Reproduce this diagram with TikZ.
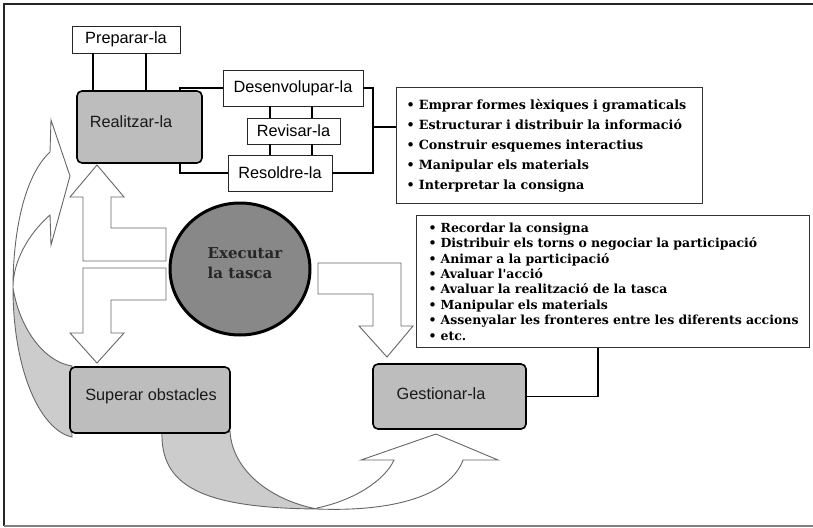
\documentclass[tikz,border=0pt]{standalone}
\usepackage{fontspec}
\setmainfont{Liberation Sans}
\newfontfamily\listfont{DejaVu Serif}
\usetikzlibrary{shapes.geometric}
\definecolor{boxgray}{HTML}{BDBDBD}
\definecolor{bandgray}{HTML}{CCCCCC}
\definecolor{circgray}{HTML}{888888}
\definecolor{edgegray}{HTML}{666666}
\hbadness=10000 \hfuzz=100pt
\tikzset{
  whitebox/.style={draw=black!85, line width=0.9pt, fill=white, inner sep=0pt,
    font=\fontsize{16.3}{18}\selectfont},
  graybox/.style={draw=black, line width=1.6pt, fill=boxgray, rounded corners=5pt, inner sep=0pt},
  lbl/.style={inner sep=0pt, font=\fontsize{16.3}{18}\selectfont, text=black!90},
  conn/.style={draw=black, line width=1.5pt},
  bigarrow/.style={draw=edgegray, line width=0.9pt, fill=white, line join=miter},
  band/.style={draw=edgegray, line width=0.9pt, fill=bandgray},
  listbox/.style={draw=black!80, line width=1pt, fill=white, align=left, anchor=north west}
}
\begin{document}
\begin{tikzpicture}[x=1pt, y=-1pt]
\useasboundingbox (0,0) rectangle (813,527);
% frame
\draw[black!85, line width=1.3pt] (813,4) -- (4,4) -- (4,526);
\draw[black!50, line width=1.3pt] (4,526) -- (813,526);

% curved arrow (left)
\path[band] (13,288) .. controls (13,370) and (40,430) .. (72,437) -- (72,366) .. controls (45,362) and (20,330) .. (13,288) -- cycle;
\path[bigarrow] (13,288) .. controls (13,230) and (25,175) .. (50,152) -- (51,120) -- (70,176) -- (51,245) -- (50,215) .. controls (35,228) and (13,255) .. (13,288) -- cycle;

% curved arrow (bottom)
\path[band] (162,431) .. controls (160,485) and (200,508) .. (317,509) .. controls (270,500) and (232,470) .. (230,431) -- cycle;
\path[bigarrow] (317,509) .. controls (395,512) and (450,495) .. (463,460) -- (498,460) -- (436,434) -- (361,460) -- (394,460) .. controls (385,480) and (355,500) .. (317,508) -- cycle;

% bent arrows around the circle
\path[bigarrow] (97,165) -- (124,197) -- (111,197) -- (111,228) -- (166,228) -- (166,261) -- (83,261) -- (83,197) -- (70,197) -- cycle;
\path[bigarrow] (83,268) -- (166,268) -- (166,300) -- (111,300) -- (111,333) -- (124,333) -- (97,363) -- (70,333) -- (83,333) -- cycle;
\path[bigarrow] (318,263) -- (401,263) -- (401,326) -- (413,326) -- (387,357) -- (359,326) -- (373,326) -- (373,294) -- (318,294) -- cycle;

% central circle
\node[ellipse, draw=black, line width=3pt, fill=circgray, minimum width=140pt, minimum height=132pt, inner sep=0pt] (executar) at (240,269) {};
\node[inner sep=0pt, align=left, font=\listfont\bfseries\fontsize{15}{20}\selectfont, text=black!85] (executarT) at (245,263) {Executar\\la tasca};

% top boxes
\node[whitebox, minimum width=108pt, minimum height=27pt] (preparar) at (126,39.5) {Preparar-la};
\node[graybox, minimum width=125pt, minimum height=72pt] (realitzar) at (139.5,127) {};
\node[lbl] (realitzarT) at (131,122) {Realitzar-la};
\node[whitebox, minimum width=140pt, minimum height=36pt] (desen) at (293,88) {Desenvolupar-la};
\node[whitebox, minimum width=93pt, minimum height=26pt] (revis) at (293.5,131) {Revisar-la};
\node[whitebox, minimum width=104pt, minimum height=36pt] (resol) at (280,173) {Resoldre-la};

% lower boxes
\node[graybox, minimum width=160pt, minimum height=66pt] (superar) at (150,400) {};
\node[lbl] (superarT) at (151,396) {Superar obstacles};
\node[graybox, minimum width=153pt, minimum height=65pt] (gestionar) at (449.5,396.5) {};
\node[lbl] (gestionarT) at (441,394) {Gestionar-la};

% lists
\node[listbox, minimum width=306pt, minimum height=116pt, text width=286pt, inner xsep=10pt, inner ysep=0pt,
  font=\listfont\bfseries\fontsize{12.7}{20}\selectfont] (list1) at (396,87) {%
\mbox{• Emprar formes lèxiques i gramaticals}\\
\mbox{• Estructurar i distribuir la informació}\\
\mbox{• Construir esquemes interactius}\\
\mbox{• Manipular els materials}\\
\mbox{• Interpretar la consigna}};
\node[listbox, minimum width=393pt, minimum height=132pt, text width=369pt, inner xsep=12pt, inner ysep=0pt,
  font=\listfont\bfseries\fontsize{12.5}{15.43}\selectfont] (list2) at (416,215) {%
\mbox{• Recordar la consigna}\\
\mbox{• Distribuir els torns o negociar la participació}\\
\mbox{• Animar a la participació}\\
\mbox{• Avaluar l'acció}\\
\mbox{• Avaluar la realització de la tasca}\\
\mbox{• Manipular els materials}\\
\mbox{• Assenyalar les fronteres entre les diferents accions}\\
\mbox{• etc.}};

% connectors
\draw[conn] (preparar.south -| 93,0) -- (realitzar.north -| 93,0);
\draw[conn] (preparar.south -| 146,0) -- (realitzar.north -| 146,0);
\draw[conn] (realitzar.north -| 180,0) |- (desen.west);
\draw[conn] (realitzar.south -| 180,0) |- (resol.west);
\draw[conn] (desen.south -| 270,0) -- (revis.north -| 270,0);
\draw[conn] (desen.south -| 312,0) -- (revis.north -| 312,0);
\draw[conn] (revis.south -| 270,0) -- (resol.north -| 270,0);
\draw[conn] (revis.south -| 312,0) -- (resol.north -| 312,0);
\coordinate (jr) at (373,127);
\draw[conn] (desen.east) -| (jr) |- (resol.east);
\draw[conn] (jr) -- (jr -| list1.west);
\draw[conn] (list2.south -| 598,0) |- (gestionar.east);
\end{tikzpicture}
\end{document}
